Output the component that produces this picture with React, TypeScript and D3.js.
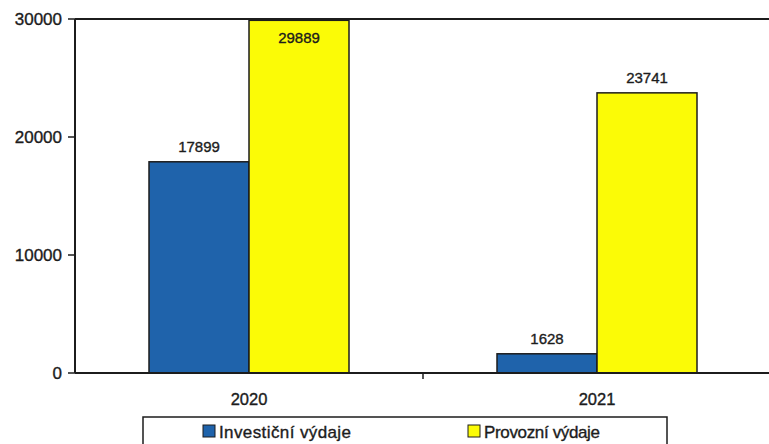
import { scaleBand, scaleLinear } from "d3";

const years = ["2020", "2021"];
const seriesNames = ["Investiční výdaje", "Provozní výdaje"];
const investment = [17899, 1628];
const operating = [29889, 23741];
const yTicks = [0, 10000, 20000, 30000];

const colors = ["#1f63ab", "#fbfb06"];
const font = "'Liberation Sans', Arial, sans-serif";
const ink = "#1c1c1c";

export default function App() {
  const width = 769;
  const height = 444;
  const margin = { top: 19, right: -2, bottom: 71, left: 75 };
  const innerW = width - margin.left - margin.right;
  const innerH = height - margin.top - margin.bottom;

  const x0 = scaleBand().domain(years).range([0, innerW]);
  const x1 = scaleBand()
    .domain(seriesNames)
    .range([0, x0.bandwidth()])
    .paddingOuter(0.74);
  const y = scaleLinear().domain([0, 30000]).range([innerH, 0]);

  const values = [investment, operating];
  // slight stroke on text to mimic the scanned, heavier look
  const textStroke = { stroke: ink, strokeWidth: 0.35 };

  return (
    <svg
      width={width}
      height={height}
      style={{ position: "absolute", left: 0, top: 0, background: "#fff" }}
      fontFamily={font}
    >
      <g transform={`translate(${margin.left}, ${margin.top})`}>
        {/* bars */}
        {years.map((year, i) => (
          <g key={year} transform={`translate(${x0(year)}, 0)`}>
            {seriesNames.map((name, s) => {
              const v = values[s][i];
              const top = y(v);
              const labelY = Math.max(top - 10, 24);
              return (
                <g key={name}>
                  <rect
                    x={x1(name)}
                    y={top}
                    width={x1.bandwidth()}
                    height={innerH - top}
                    fill={colors[s]}
                    stroke={ink}
                    strokeWidth={1.5}
                  />
                  <text
                    x={(x1(name) ?? 0) + x1.bandwidth() / 2}
                    y={labelY}
                    textAnchor="middle"
                    fontSize={15}
                    fill={ink}
                    {...textStroke}
                  >
                    {v}
                  </text>
                </g>
              );
            })}
          </g>
        ))}

        {/* top border */}
        <line x1={0} x2={innerW} y1={0} y2={0} stroke={ink} strokeWidth={2} />

        {/* y axis */}
        <line x1={0} x2={0} y1={0} y2={innerH} stroke={ink} strokeWidth={2} />
        {yTicks.map((t) => (
          <g key={t} transform={`translate(0, ${y(t)})`}>
            <line x1={-7} x2={0} stroke={ink} strokeWidth={1.5} />
            <text
              x={-13}
              dy="0.36em"
              textAnchor="end"
              fontSize={17}
              fill={ink}
              {...textStroke}
            >
              {t}
            </text>
          </g>
        ))}

        {/* x axis */}
        <line x1={0} x2={innerW} y1={innerH} y2={innerH} stroke={ink} strokeWidth={2} />
        {years.slice(1).map((year) => (
          <line
            key={year}
            x1={x0(year)}
            x2={x0(year)}
            y1={innerH}
            y2={innerH + 6}
            stroke={ink}
            strokeWidth={1.5}
          />
        ))}
        {years.map((year) => (
          <text
            key={year}
            x={(x0(year) ?? 0) + x0.bandwidth() / 2}
            y={innerH + 32}
            textAnchor="middle"
            fontSize={16.5}
            fill={ink}
            {...textStroke}
          >
            {year}
          </text>
        ))}
      </g>

      {/* legend */}
      <g>
        <rect x={143} y={417} width={524} height={32} fill="#fff" stroke={ink} strokeWidth={1.5} />
        <rect x={203} y={425} width={12} height={12} fill={colors[0]} stroke={ink} strokeWidth={1} />
        <text x={219} y={438} fontSize={17} fill={ink} {...textStroke} textLength={132}>
          {seriesNames[0]}
        </text>
        <rect x={468} y={425} width={12} height={12} fill={colors[1]} stroke={ink} strokeWidth={1} />
        <text x={484} y={438} fontSize={17} fill={ink} {...textStroke} textLength={116}>
          {seriesNames[1]}
        </text>
      </g>
    </svg>
  );
}
